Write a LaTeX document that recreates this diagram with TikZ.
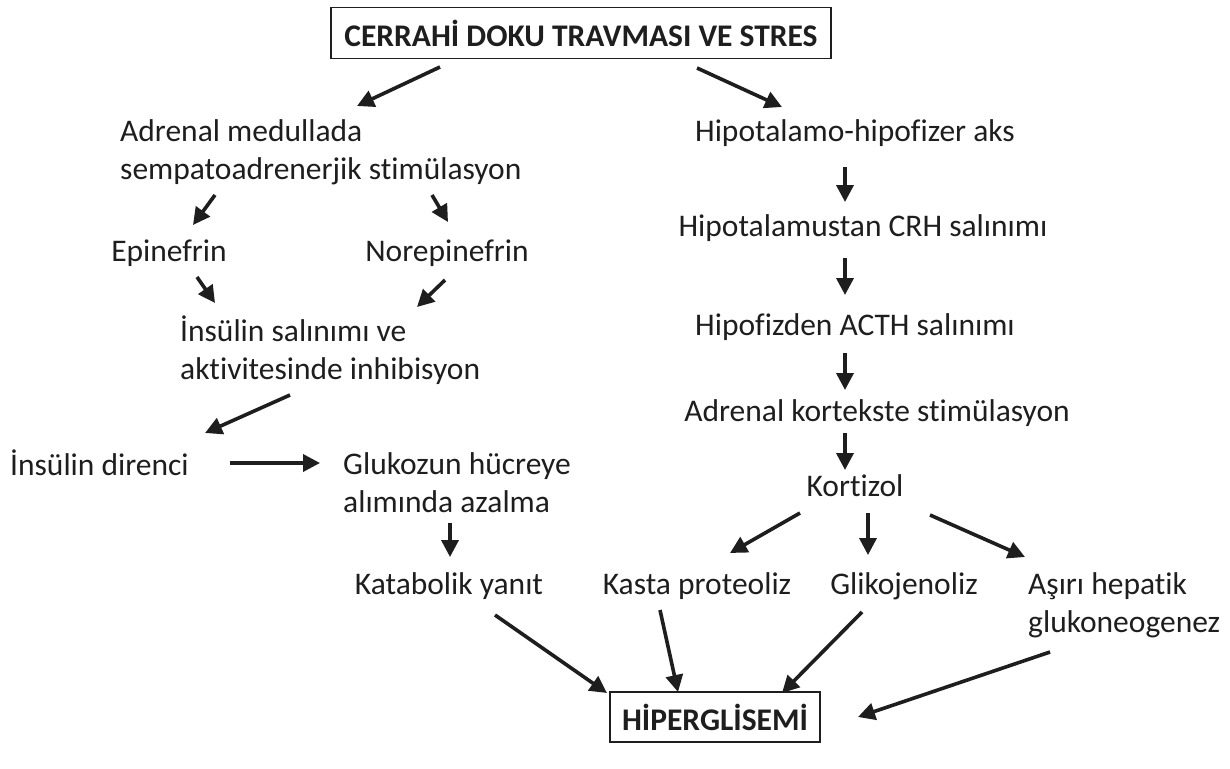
\documentclass[tikz,border=0pt]{standalone}
\usepackage{fontspec}
\setmainfont{Carlito}[Ligatures={NoCommon}]
\usetikzlibrary{arrows.meta,calc}
\definecolor{ink}{HTML}{1E1E1E}
\begin{document}
\begin{tikzpicture}[x=1pt,y=-1pt,
  txt/.style={inner sep=0pt,text=ink,font=\fontsize{31.5}{38}\selectfont},
  ltxt/.style={txt,align=left,anchor=west},
  boxed/.style={draw=ink,line width=1.6pt,inner xsep=12pt,font=\bfseries\fontsize{31.5}{36}\selectfont,text=ink},
  arr/.style={draw=ink,line width=3.6pt,-{Triangle[length=17pt,width=17pt]}}]
\useasboundingbox[fill=white] (0,0) rectangle (1230,768);

% top cause and final outcome
\node[boxed,minimum width=500pt,minimum height=51pt] (top) at (581,33) {CERRAHİ DOKU TRAVMASI VE STRES};
\node[boxed,minimum height=50pt] (hip) at (715,717) {HİPERGLİSEMİ};

% sympathoadrenergic branch
\node[ltxt] (sem) at (120,152) {Adrenal medullada\\sempatoadrenerjik stimülasyon};
\node[txt] (epi) at (169,253) {Epinefrin};
\node[txt] (nor) at (447,253) {Norepinefrin};
\node[ltxt] (ins) at (180,350) {İnsülin salınımı ve\\aktivitesinde inhibisyon};
\node[ltxt] (dir) at (10,463) {İnsülin direnci};
\node[ltxt] (glu) at (343,483) {Glukozun hücreye\\alımında azalma};
\node[txt] (kat) at (449,586) {Katabolik yanıt};

% hypothalamic-pituitary branch
\node[txt] (hipo) at (855,133) {Hipotalamo-hipofizer aks};
\node[txt] (crh) at (863,228) {Hipotalamustan CRH salınımı};
\node[txt] (acth) at (855,327) {Hipofizden ACTH salınımı};
\node[txt] (adk) at (877,413) {Adrenal kortekste stimülasyon};
\node[txt] (kor) at (855,486) {Kortizol};
\node[txt] (kas) at (697,586) {Kasta proteoliz};
\node[txt] (gli) at (904,586) {Glikojenoliz};
\node[ltxt] (asi) at (1028,605) {Aşırı hepatik\\glukoneogenez};

% connectors
\draw[arr] ($(top)+(-141,34)$) -- ($(sem.west)+(237,-46)$);
\draw[arr] ($(top)+(116,35)$) -- ($(hipo)+(-73,-26)$);
\draw[arr] ($(sem.west)+(95,43)$) -- ($(epi)+(24,-28)$);
\draw[arr] ($(sem.west)+(312,43)$) -- ($(nor)+(1,-31)$);
\draw[arr] ($(epi)+(28,24)$) -- ($(ins.west)+(35,-47)$);
\draw[arr] ($(nor)+(-2,27)$) -- ($(ins.west)+(237,-43)$);
\draw[arr] ($(ins.west)+(110,45)$) -- ($(dir.west)+(195,-30)$);
\draw[arr] ($(dir.west)+(220,0)$) -- ($(glu.west)+(-23,-20)$);
\draw[arr] ($(glu.west)+(107,40)$) -- ($(kat)+(1,-29)$);

\draw[arr] ($(hipo)+(-10,34)$) -- ($(crh)+(-18,-26)$);
\draw[arr] ($(crh)+(-18,30)$) -- ($(acth)+(-10,-32)$);
\draw[arr] ($(acth)+(-10,26)$) -- ($(adk)+(-32,-23)$);
\draw[arr] ($(adk)+(-32,20)$) -- ($(kor)+(-10,-16)$);
\draw[arr] ($(kor)+(-55,27)$) -- ($(kas)+(33,-33)$);
\draw[arr] ($(kor)+(13,27)$) -- ($(gli)+(-36,-31)$);
\draw[arr] ($(kor)+(75,29)$) -- ($(asi.west)+(-3,-48)$);

\draw[arr] ($(kat)+(46,29)$) -- ($(hip)+(-108,-24)$);
\draw[arr] ($(kas)+(-37,24)$) -- ($(hip)+(-37,-25)$);
\draw[arr] ($(gli)+(-42,26)$) -- ($(hip)+(67,-24)$);
\draw[arr] ($(asi.west)+(22,47)$) -- ($(hip)+(143,0)$);
\end{tikzpicture}
\end{document}
